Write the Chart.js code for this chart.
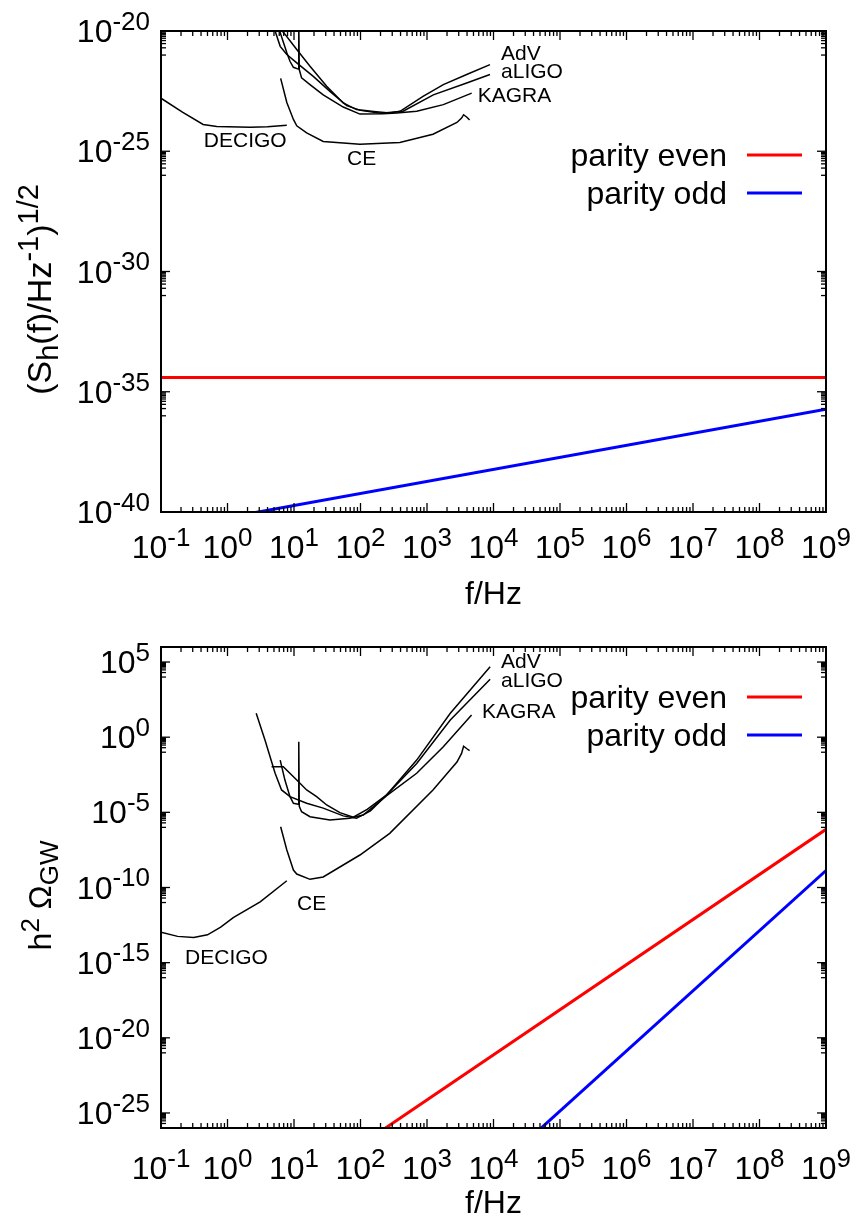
<!DOCTYPE html>
<html lang="en">
<head>
<meta charset="UTF-8">
<title>GW sensitivity vs parity spectra</title>
<script src="https://cdn.jsdelivr.net/npm/chart.js@4"></script>
<style>
  body { margin: 0; background: #fff; }
  #wrap { position: relative; width: 856px; height: 1220px; }
  canvas { position: absolute; left: 0; }
  #top { top: 0; }
  #bottom { top: 610px; }
</style>
</head>
<body>
<div id="wrap">
  <canvas id="top" width="856" height="610"></canvas>
  <canvas id="bottom" width="856" height="610"></canvas>
</div>
<script>
// ---- data: [f/Hz, value] ----
// upper panel: (S_h(f)/Hz^-1)^(1/2)
const advTop = [[4.6, 1.66e-20], [6.9, 9.1e-21], [11, 1.7e-21], [17.4, 3.4e-22], [31, 5.0e-23], [55, 1.02e-23], [87, 5.4e-24], [158, 4.5e-24], [275, 3.9e-24], [393, 4.6e-24], [871, 1.9e-23], [1760, 5.9e-23], [3950, 1.55e-22], [8850, 4.0e-22]];
const aligoTop = [[2.7, 2.2e-18], [3.66, 1.8e-19], [5.2, 1.0e-20], [6.2, 2.3e-21], [7.8, 1.05e-21], [11, 4.7e-22], [19.5, 1.3e-22], [34.7, 3.1e-23], [62, 7.9e-24], [100, 5.0e-24], [200, 3.8e-24], [437, 4.6e-24], [1245, 2.2e-23], [3950, 6.9e-23], [8850, 1.55e-22]];
const kagraTop = [[5.6, 2.0e-20], [7.8, 1.26e-21], [8.7, 5.5e-22], [9.8, 3.1e-22], [11.6, 2.6e-22], [11.8, 2.75e-20], [12.0, 2.5e-22], [13.0, 1.12e-22], [17.4, 5.9e-23], [27.5, 2.2e-23], [55, 6.9e-24], [98, 3.5e-24], [219, 3.6e-24], [350, 3.9e-24], [700, 4.6e-24], [1760, 8.7e-24], [4700, 2.6e-23]];
const ceTop = [[6.3, 1.07e-22], [7.8, 1.07e-23], [9.8, 2.1e-24], [11, 1.15e-24], [15.5, 5.8e-25], [27.5, 2.55e-25], [98, 1.95e-25], [390, 2.3e-25], [1230, 5.1e-25], [2820, 1.58e-24], [3310, 2.4e-24], [3550, 3.3e-24], [3980, 2.6e-24], [4370, 2.0e-24]];
const decigoTop = [[0.1, 1.6e-23], [0.21, 4.2e-24], [0.43, 1.3e-24], [0.69, 1.07e-24], [2.2, 1.0e-24], [4.0, 1.05e-24], [7.8, 1.2e-24]];
const evenTop = [[0.1, 3.9e-35], [1e9, 3.9e-35]];
const oddTop = [[0.1, 1.86e-41], [1e9, 1.86e-36]];

// lower panel: h^2 Omega_GW
const advBot = [[4.6, 1.1e-2], [6.9, 1.1e-2], [11, 1.4e-3], [15.5, 3.1e-4], [21.9, 1.1e-4], [31, 3.1e-5], [49, 9.5e-6], [78, 4.7e-6], [126, 1.6e-5], [245, 1.4e-4], [700, 3.0e-2], [2240, 39], [8900, 4.9e4]];
const aligoBot = [[2.7, 39], [3.66, 0.65], [5.2, 4.0e-3], [6.5, 3.1e-4], [8.7, 1.1e-4], [15.5, 4.0e-5], [27.5, 1.9e-5], [55, 5.8e-6], [87, 4.0e-6], [141, 1.26e-5], [245, 1.4e-4], [700, 1.8e-2], [2240, 13.8], [8900, 7.1e3]];
const kagraBot = [[6.2, 3.0e-2], [7.3, 1.4e-3], [8.7, 1.1e-4], [9.8, 4.0e-5], [11.6, 3.5e-5], [11.8, 0.5], [12.0, 2.5e-5], [13.0, 1.1e-5], [17.4, 5.1e-6], [34.7, 3.1e-6], [69, 4.0e-6], [110, 6.6e-6], [245, 1.26e-4], [700, 4.0e-3], [1760, 0.23], [4680, 29.5]];
const ceBot = [[6.3, 1.1e-6], [7.8, 3.1e-8], [9.8, 1.45e-9], [11, 7.9e-10], [17.4, 3.5e-10], [27.5, 5.0e-10], [98, 1.45e-8], [275, 4.0e-7], [1230, 3.1e-4], [2820, 2.2e-2], [3310, 8.3e-2], [3550, 0.25], [3980, 0.17], [4370, 0.13]];
const decigoBot = [[0.1, 1.05e-13], [0.178, 5.6e-14], [0.31, 4.7e-14], [0.5, 7.1e-14], [0.79, 2.3e-13], [1.22, 1.0e-12], [3.1, 1.12e-11], [7.8, 2.8e-10]];
const evenBot = [[100, 7.4e-28], [1e9, 7.4e-7]];
const oddBot = [[1e4, 1.35e-29], [1e9, 1.35e-9]];

// tick exponents
const xTickExp = [-1, 0, 1, 2, 3, 4, 5, 6, 7, 8, 9];
const yTickExpTop = [-20, -25, -30, -35, -40];
const yTickExpBot = [5, 0, -5, -10, -15, -20, -25];

// detector name anchors [text, f, value]
const namesTop = [['AdV', 1.3e4, 1.05e-21], ['aLIGO', 1.3e4, 1.9e-22], ['KAGRA', 5.8e3, 2.0e-23], ['DECIGO', 0.44, 2.5e-25], ['CE', 62.7, 4.5e-26]];
const namesBot = [['AdV', 1.3e4, 1.0e5], ['aLIGO', 1.3e4, 5.5e3], ['KAGRA', 6.7e3, 47], ['CE', 11.1, 8e-12], ['DECIGO', 0.23, 2.0e-15]];

// ---- drawing ----
const FAM = '"Liberation Sans", Arial, sans-serif';
const BIG = 32, SUPF = 0.8, NAME = 21;

function pts(arr) { return arr.map(([x, y]) => ({ x, y })); }

function powLabel(ctx, exp, x, y, align) {
  ctx.font = BIG + 'px ' + FAM;
  const w1 = ctx.measureText('10').width;
  ctx.font = Math.round(BIG * SUPF) + 'px ' + FAM;
  const w2 = ctx.measureText(exp).width;
  const x0 = align === 'right' ? x - w1 - w2 : x - (w1 + w2) / 2;
  ctx.font = BIG + 'px ' + FAM;
  ctx.fillText('10', x0, y);
  ctx.font = Math.round(BIG * SUPF) + 'px ' + FAM;
  ctx.fillText(exp, x0 + w1, y - BIG * 0.38);
}

// parts: [text, shift] shift 1 = superscript, -1 = subscript
function richWidth(ctx, parts, size, sf) {
  let w = 0;
  for (const [t, s] of parts) {
    ctx.font = (s ? Math.round(size * sf) : size) + 'px ' + FAM;
    w += ctx.measureText(t).width;
  }
  return w;
}
function richDraw(ctx, parts, x, y, size, sf) {
  for (const [t, s] of parts) {
    ctx.font = (s ? Math.round(size * sf) : size) + 'px ' + FAM;
    const dy = s === 1 ? -size * 0.38 : s === -1 ? size * 0.22 : 0;
    ctx.fillText(t, x, y + dy);
    x += ctx.measureText(t).width;
  }
}

const gnuFrame = {
  id: 'gnuFrame',
  afterDatasetsDraw(chart, args, o) {
    const { ctx, chartArea: a, scales: { x, y } } = chart;
    ctx.save();
    ctx.strokeStyle = '#000';
    ctx.fillStyle = '#000';
    ctx.lineWidth = 1.3;
    const seg = (x1, y1, x2, y2) => { ctx.beginPath(); ctx.moveTo(x1, y1); ctx.lineTo(x2, y2); ctx.stroke(); };
    // x ticks, mirrored on top
    for (const e of xTickExp) {
      for (let k = 1; k <= 9; k++) {
        const v = k * Math.pow(10, e);
        if (v > x.max * 1.0001) break;
        const px = x.getPixelForValue(v);
        const len = k === 1 ? 9 : 5;
        seg(px, a.bottom, px, a.bottom - len);
        seg(px, a.top, px, a.top + len);
      }
    }
    // y ticks: major + sub-decade cluster below it
    for (const e of o.yExp) {
      for (let k = 1; k <= 10; k++) {
        const v = k === 10 ? Math.pow(10, e) : k * Math.pow(10, e - 1);
        if (v < y.min * 0.9999) continue;
        const py = y.getPixelForValue(v);
        const len = k === 10 ? 9 : 5;
        seg(a.left, py, a.left + len, py);
        seg(a.right, py, a.right - len, py);
      }
    }
    // border
    ctx.lineWidth = 2;
    ctx.strokeRect(a.left, a.top, a.right - a.left, a.bottom - a.top);

    // tick labels
    ctx.textAlign = 'left';
    ctx.textBaseline = 'alphabetic';
    for (const e of xTickExp) {
      powLabel(ctx, String(e), x.getPixelForValue(Math.pow(10, e)), a.bottom + o.xLabelDy, 'center');
    }
    for (const e of o.yExp) {
      powLabel(ctx, String(e), a.left - 11, y.getPixelForValue(Math.pow(10, e)) + 11, 'right');
    }

    // x title
    ctx.font = BIG + 'px ' + FAM;
    const tw = ctx.measureText('f/Hz').width;
    ctx.fillText('f/Hz', (a.left + a.right) / 2 - tw / 2, a.bottom + o.xTitleDy);

    // y title, rotated
    const ts = o.yTitleSize, tf = o.yTitleSub;
    const w = richWidth(ctx, o.yTitle, ts, tf);
    ctx.save();
    ctx.translate(o.yTitleX, (a.top + a.bottom) / 2 + o.yTitleDy);
    ctx.rotate(-Math.PI / 2);
    richDraw(ctx, o.yTitle, -w / 2, 11, ts, tf);
    ctx.restore();

    // detector names
    ctx.font = NAME + 'px ' + FAM;
    ctx.textBaseline = 'middle';
    for (const [t, f, v] of o.names) {
      ctx.fillText(t, x.getPixelForValue(f), y.getPixelForValue(v));
    }

    // key, gnuplot style: text right-aligned, sample to the right
    ctx.font = BIG + 'px ' + FAM;
    ctx.textAlign = 'right';
    ctx.textBaseline = 'alphabetic';
    let row = 0;
    chart.data.datasets.forEach(ds => {
      if (!ds.inKey) return;
      const ry = a.top + o.keyTop + row * 38;
      ctx.fillStyle = '#000';
      ctx.fillText(ds.label, a.right - 99, ry + 11);
      ctx.strokeStyle = ds.borderColor;
      ctx.lineWidth = 3;
      seg(a.right - 79, ry, a.right - 24, ry);
      row++;
    });
    ctx.restore();
  }
};

function black(label, arr) {
  return { label, data: pts(arr), borderColor: '#000', borderWidth: 1.5, showLine: true, pointRadius: 0, tension: 0 };
}
function colored(label, arr, color) {
  return { label, data: pts(arr), borderColor: color, borderWidth: 3, showLine: true, pointRadius: 0, tension: 0, inKey: true };
}

function makeChart(id, datasets, yMin, yMax, pad, frame) {
  return new Chart(document.getElementById(id), {
    type: 'scatter',
    data: { datasets },
    options: {
      responsive: false,
      animation: false,
      events: [],
      layout: { padding: pad },
      plugins: { legend: { display: false }, tooltip: { enabled: false }, gnuFrame: frame },
      scales: {
        x: { type: 'logarithmic', min: 0.1, max: 1e9, display: false },
        y: { type: 'logarithmic', min: yMin, max: yMax, display: false }
      }
    },
    plugins: [gnuFrame]
  });
}

makeChart('top', [
  black('AdV', advTop), black('aLIGO', aligoTop), black('KAGRA', kagraTop),
  black('CE', ceTop), black('DECIGO', decigoTop),
  colored('parity even', evenTop, '#ff0000'),
  colored('parity odd', oddTop, '#0000ff')
], 1e-40, 1e-20, { left: 161, right: 30, top: 31, bottom: 98 }, {
  yExp: yTickExpTop, names: namesTop, xLabelDy: 46, xTitleDy: 92,
  yTitleX: 40, yTitleDy: 18, yTitleSize: 34, yTitleSub: 0.85,
  keyTop: 124,
  yTitle: [['(S', 0], ['h', -1], ['(f)/Hz', 0], ['-1', 1], [')', 0], ['1/2', 1]]
});

makeChart('bottom', [
  black('AdV', advBot), black('aLIGO', aligoBot), black('KAGRA', kagraBot),
  black('CE', ceBot), black('DECIGO', decigoBot),
  colored('parity even', evenBot, '#ff0000'),
  colored('parity odd', oddBot, '#0000ff')
], 1e-26, 1e6, { left: 161, right: 30, top: 37, bottom: 92 }, {
  yExp: yTickExpBot, names: namesBot, xLabelDy: 51, xTitleDy: 85,
  yTitleX: 40, yTitleDy: 8, yTitleSize: 32, yTitleSub: 0.8,
  keyTop: 50,
  yTitle: [['h', 0], ['2', 1], [' \u03A9', 0], ['GW', -1]]
});
</script>
</body>
</html>
